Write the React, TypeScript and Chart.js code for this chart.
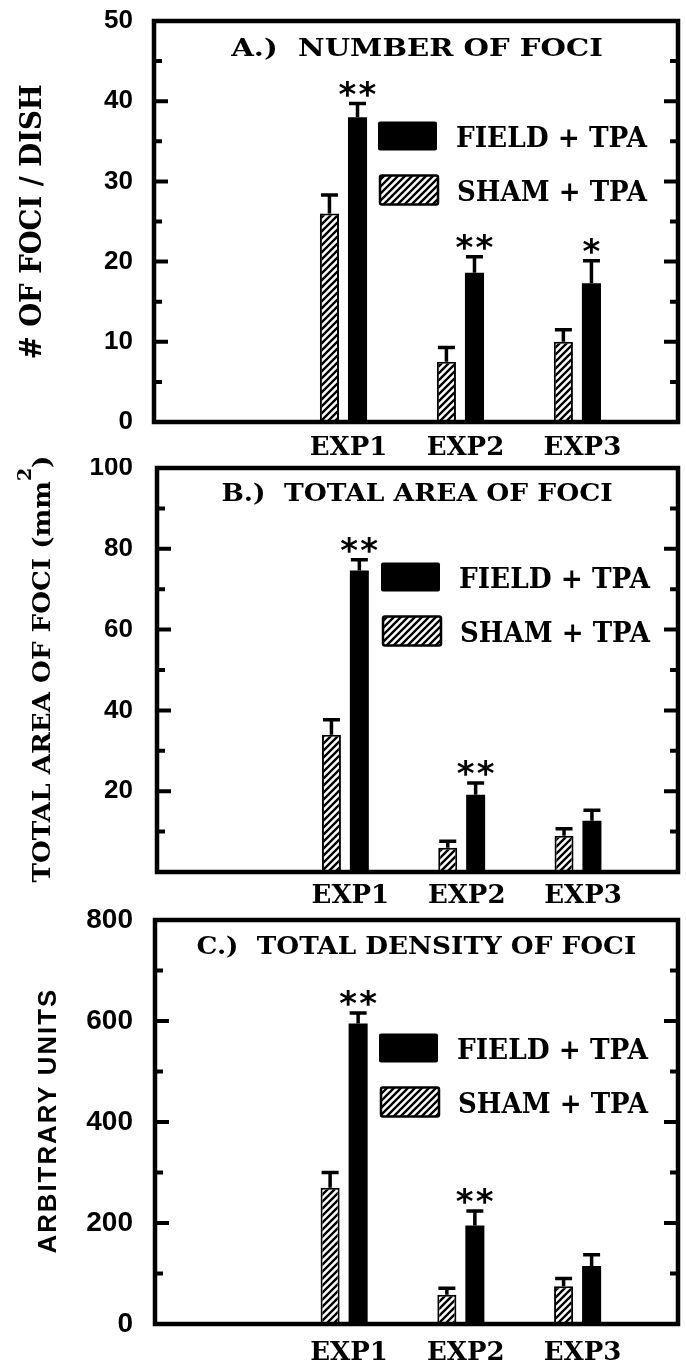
import React, { useEffect, useRef } from 'react';
import { Chart, registerables } from 'chart.js';

Chart.register(...registerables);

// ---------------- data ----------------
const categories = ['EXP1', 'EXP2', 'EXP3'];
const fieldLabel = 'FIELD + TPA';
const shamLabel = 'SHAM + TPA';

// A.) number of foci per dish
const fociSham = [26, 7.5, 10];
const fociShamErr = [2.3, 1.8, 1.5];
const fociField = [38, 18.6, 17.3];
const fociFieldErr = [1.7, 2.0, 2.8];
const fociStars = ['**', '**', '*'];

// B.) total area of foci (mm2)
const areaSham = [34, 6, 9];
const areaShamErr = [3.7, 1.6, 1.7];
const areaField = [74.6, 19.1, 12.7];
const areaFieldErr = [2.7, 2.9, 2.6];
const areaStars = ['**', '**', ''];

// C.) total density of foci (arbitrary units)
const densitySham = [270, 58, 75];
const densityShamErr = [30, 13, 15];
const densityField = [595, 195, 115];
const densityFieldErr = [21, 29, 22];
const densityStars = ['**', '**', ''];

// y axis ranges / tick steps
const fociAxis = { max: 50, step: 5, labelEvery: 10, zero: true };
const areaAxis = { max: 100, step: 10, labelEvery: 20, zero: false };
const densityAxis = { max: 800, step: 100, labelEvery: 200, zero: true };

// ---------------- style ----------------
const SERIF = '"DejaVu Serif", serif';
const SANS = '"Liberation Sans", Arial, sans-serif';
const STAR = '"DejaVu Sans", sans-serif';

type Panel = {
  key: string;
  canvasTop: number;
  canvasHeight: number;
  areaTop: number;
  areaLeft: number;
  xAxisHeight: number;
  xLabelPad: number;
  yLabelPad: number;
  yTickSize: number;
  axis: { max: number; step: number; labelEvery: number; zero: boolean };
  sham: number[];
  shamErr: number[];
  field: number[];
  fieldErr: number[];
  stars: string[];
  title: string;
  titleSize: number;
  titleW: number;
  titleY: number;
  yTitle: string;
  yTitleSup?: string;
  yTitleAfter?: string;
  yTitleFont: string;
  yTitleSize: number;
  yTitleW: number;
  yTitleX: number;
  yTitleSpacing: number;
  legendY: number;
};

const panels: Panel[] = [
  {
    key: 'A', canvasTop: 0, canvasHeight: 458, areaTop: 21, areaLeft: 154, xAxisHeight: 36,
    xLabelPad: 11, yLabelPad: 21, yTickSize: 26, axis: fociAxis,
    sham: fociSham, shamErr: fociShamErr, field: fociField, fieldErr: fociFieldErr, stars: fociStars,
    title: 'A.)  NUMBER OF FOCI', titleSize: 25, titleW: 372, titleY: 27,
    yTitle: '# OF FOCI / DISH', yTitleFont: SERIF, yTitleSize: 30, yTitleW: 272, yTitleX: 31, yTitleSpacing: 0,
    legendY: 115,
  },
  {
    key: 'B', canvasTop: 458, canvasHeight: 450, areaTop: 10, areaLeft: 157, xAxisHeight: 36,
    xLabelPad: 9, yLabelPad: 24, yTickSize: 26, axis: areaAxis,
    sham: areaSham, shamErr: areaShamErr, field: areaField, fieldErr: areaFieldErr, stars: areaStars,
    title: 'B.)  TOTAL AREA OF FOCI', titleSize: 24, titleW: 390, titleY: 25,
    yTitle: 'TOTAL AREA OF FOCI (mm', yTitleSup: '2', yTitleAfter: ')',
    yTitleFont: SERIF, yTitleSize: 25, yTitleW: 425, yTitleX: 41, yTitleSpacing: 0,
    legendY: 109,
  },
  {
    key: 'C', canvasTop: 908, canvasHeight: 456, areaTop: 12, areaLeft: 155, xAxisHeight: 40,
    xLabelPad: 14, yLabelPad: 22, yTickSize: 28, axis: densityAxis,
    sham: densitySham, shamErr: densityShamErr, field: densityField, fieldErr: densityFieldErr, stars: densityStars,
    title: 'C.)  TOTAL DENSITY OF FOCI', titleSize: 25, titleW: 438, titleY: 26,
    yTitle: 'ARBITRARY UNITS', yTitleFont: SANS, yTitleSize: 25, yTitleW: 263, yTitleX: 47, yTitleSpacing: 2,
    legendY: 128,
  },
];

const X_MIN = -1.62;
const X_MAX = 2.86;
const AREA_RIGHT = 678;
const W = 686;

function makeHatch(ctx: CanvasRenderingContext2D): CanvasPattern {
  const s = 7;
  const c = document.createElement('canvas');
  c.width = s;
  c.height = s;
  const g = c.getContext('2d')!;
  g.fillStyle = '#fff';
  g.fillRect(0, 0, s, s);
  g.strokeStyle = '#000';
  g.lineWidth = 2.4;
  g.beginPath();
  g.moveTo(-1, s + 1); g.lineTo(s + 1, -1);
  g.moveTo(-s / 2 - 1, s / 2 + 1); g.lineTo(s / 2 + 1, -s / 2 - 1);
  g.moveTo(s / 2 - 1, s * 1.5 + 1); g.lineTo(s * 1.5 + 1, s / 2 - 1);
  g.stroke();
  return ctx.createPattern(c, 'repeat')!;
}

// Draw text whose ink box is placed at (x, y): centred vertically, and either
// centred or left-aligned horizontally; optionally stretched to an ink width.
function drawInk(
  ctx: CanvasRenderingContext2D, text: string, x: number, y: number, font: string,
  mode: 'center' | 'left', targetW = 0, rotate = 0, spacing = 0,
) {
  ctx.save();
  ctx.font = font;
  (ctx as any).letterSpacing = spacing + 'px';
  ctx.textAlign = 'left';
  ctx.textBaseline = 'alphabetic';
  ctx.fillStyle = '#000';
  const m = ctx.measureText(text);
  const aL = m.actualBoundingBoxLeft;
  const aR = m.actualBoundingBoxRight;
  const inkW = aL + aR;
  const sx = targetW ? targetW / inkW : 1;
  ctx.translate(x, y);
  if (rotate) ctx.rotate(rotate);
  ctx.scale(sx, 1);
  const bx = mode === 'center' ? -(aR - aL) / 2 : aL;
  const by = (m.actualBoundingBoxAscent - m.actualBoundingBoxDescent) / 2;
  ctx.fillText(text, bx, by);
  ctx.restore();
}

function PanelChart({ p }: { p: Panel }) {
  const ref = useRef<HTMLCanvasElement | null>(null);
  useEffect(() => {
    const canvas = ref.current!;
    const ctx0 = canvas.getContext('2d')!;
    const hatch = makeHatch(ctx0);
    const isLabelled = (v: number) => v % p.axis.labelEvery === 0 && (p.axis.zero || v > 0);

    const decor = {
      id: 'decor' + p.key,
      afterDatasetsDraw(chart: any) {
        const ctx: CanvasRenderingContext2D = chart.ctx;
        const ys = chart.scales.y;
        const errs = [p.shamErr, p.fieldErr];
        const vals = [p.sham, p.field];
        ctx.save();
        ctx.strokeStyle = '#000';
        ctx.lineWidth = 3.5;
        [0, 1].forEach((di) => {
          const meta = chart.getDatasetMeta(di);
          meta.data.forEach((el: any, i: number) => {
            const top = ys.getPixelForValue(vals[di][i] + errs[di][i]);
            ctx.beginPath();
            ctx.moveTo(el.x, el.y);
            ctx.lineTo(el.x, top);
            ctx.moveTo(el.x - 8.5, top);
            ctx.lineTo(el.x + 8.5, top);
            ctx.stroke();
            const s = p.stars[i];
            if (di === 1 && s) {
              const n = s.length;
              for (let j = 0; j < n; j++) {
                drawInk(ctx, '*', el.x + (j - (n - 1) / 2) * 20, top - 15, `bold 34px ${STAR}`, 'center');
              }
            }
          });
        });
        ctx.restore();
      },
      afterDraw(chart: any) {
        const ctx: CanvasRenderingContext2D = chart.ctx;
        const a = chart.chartArea;
        const ys = chart.scales.y;
        ctx.save();
        // inward tick marks on both sides
        ctx.strokeStyle = '#000';
        ctx.lineWidth = 4;
        ys.ticks.forEach((t: any) => {
          if (t.value <= 0 || t.value >= p.axis.max) return;
          const y = ys.getPixelForValue(t.value);
          const len = isLabelled(t.value) ? 14 : 8;
          ctx.beginPath();
          ctx.moveTo(a.left, y); ctx.lineTo(a.left + len, y);
          ctx.moveTo(a.right, y); ctx.lineTo(a.right - len, y);
          ctx.stroke();
        });
        // frame
        ctx.lineWidth = 4.5;
        ctx.lineJoin = 'miter';
        ctx.strokeRect(a.left, a.top, a.right - a.left, a.bottom - a.top);

        // title inside the frame
        drawInk(ctx, p.title, (a.left + a.right) / 2, a.top + p.titleY, `bold ${p.titleSize}px ${SERIF}`, 'center', p.titleW);

        // legend
        const bx = a.left + 224;
        const r1 = a.top + p.legendY;
        const r2 = r1 + 54;
        ctx.fillStyle = '#000';
        ctx.beginPath();
        (ctx as any).roundRect(bx, r1 - 14.5, 59, 29, 2);
        ctx.fill();
        ctx.beginPath();
        (ctx as any).roundRect(bx + 2, r2 - 14.5, 58, 29, 2);
        ctx.fillStyle = hatch;
        ctx.fill();
        ctx.lineWidth = 2.5;
        ctx.stroke();
        drawInk(ctx, fieldLabel, a.left + 303, r1, `bold 27px ${SERIF}`, 'left', 191);
        drawInk(ctx, shamLabel, a.left + 304, r2, `bold 27px ${SERIF}`, 'left', 190);

        // y axis title (rotated)
        const cy = (a.top + a.bottom) / 2;
        const font = `bold ${p.yTitleSize}px ${p.yTitleFont}`;
        if (p.yTitleSup) {
          const supFont = `bold ${Math.round(p.yTitleSize * 0.7)}px ${SERIF}`;
          ctx.save();
          ctx.font = font;
          const mm = ctx.measureText(p.yTitle);
          const w1 = mm.width;
          const w3m = ctx.measureText(p.yTitleAfter || '');
          const w3 = w3m.width;
          ctx.font = supFont;
          const w2 = ctx.measureText(p.yTitleSup).width;
          ctx.restore();
          const inkTotal = mm.actualBoundingBoxLeft + w1 + w2 + w3m.actualBoundingBoxRight;
          const sx = p.yTitleW / inkTotal;
          const capH = mm.actualBoundingBoxAscent;
          ctx.save();
          ctx.translate(p.yTitleX, cy);
          ctx.rotate(-Math.PI / 2);
          ctx.scale(sx, 1);
          ctx.fillStyle = '#000';
          ctx.textBaseline = 'alphabetic';
          ctx.textAlign = 'left';
          const x0 = -inkTotal / 2 + mm.actualBoundingBoxLeft;
          const base = capH * 0.5 - 1;
          ctx.font = font;
          ctx.fillText(p.yTitle, x0, base);
          ctx.font = supFont;
          ctx.fillText(p.yTitleSup, x0 + w1, base - capH * 0.95);
          ctx.font = font;
          ctx.fillText(p.yTitleAfter || '', x0 + w1 + w2, base);
          ctx.restore();
        } else {
          drawInk(ctx, p.yTitle, p.yTitleX, cy, font, 'center', p.yTitleW, -Math.PI / 2, p.yTitleSpacing);
        }
        ctx.restore();
      },
    };

    const chart = new Chart(canvas, {
      type: 'bar',
      data: {
        datasets: [
          {
            label: shamLabel,
            data: p.sham.map((v, i) => ({ x: i, y: v })),
            backgroundColor: hatch,
            borderColor: '#000',
            borderWidth: 2,
            categoryPercentage: 0.48,
            barPercentage: 0.68,
          },
          {
            label: fieldLabel,
            data: p.field.map((v, i) => ({ x: i, y: v })),
            backgroundColor: '#000',
            borderColor: '#000',
            borderWidth: 0,
            categoryPercentage: 0.48,
            barPercentage: 0.68,
          },
        ],
      } as any,
      options: {
        responsive: false,
        animation: false,
        events: [],
        layout: { padding: { top: p.areaTop, left: 0, right: W - AREA_RIGHT, bottom: 0 } },
        plugins: { legend: { display: false }, tooltip: { enabled: false }, title: { display: false } },
        scales: {
          x: {
            type: 'linear',
            offset: false,
            min: X_MIN,
            max: X_MAX,
            grid: { display: false, drawTicks: false },
            border: { display: false },
            afterBuildTicks: (s: any) => {
              s.ticks = categories.map((_, i) => ({ value: i }));
            },
            afterFit: (s: any) => {
              s.height = p.xAxisHeight;
              s.paddingLeft = 0;
              s.paddingRight = 0;
            },
            ticks: {
              autoSkip: false,
              maxRotation: 0,
              padding: p.xLabelPad,
              labelOffset: 5,
              color: '#000',
              font: { family: SERIF, size: 26, weight: 'bold' },
              callback: (v: any) => categories[Math.round(Number(v))] ?? '',
            },
          },
          y: {
            type: 'linear',
            min: 0,
            max: p.axis.max,
            grid: { display: false, drawTicks: false },
            border: { display: false },
            afterFit: (s: any) => {
              s.width = p.areaLeft;
              s.paddingTop = 0;
              s.paddingBottom = 0;
            },
            ticks: {
              stepSize: p.axis.step,
              autoSkip: false,
              padding: p.yLabelPad,
              color: '#000',
              font: { family: SANS, size: p.yTickSize, weight: 'bold' },
              callback: (v: any) => (isLabelled(Number(v)) ? String(v) : ''),
            },
          },
        },
      } as any,
      plugins: [decor],
    });
    return () => chart.destroy();
  }, [p]);

  return (
    <canvas
      ref={ref}
      width={W}
      height={p.canvasHeight}
      style={{ position: 'absolute', left: 0, top: p.canvasTop, width: W, height: p.canvasHeight }}
    />
  );
}

export default function App() {
  return (
    <div style={{ position: 'absolute', left: 0, top: 0, width: W, height: 1364, background: '#fff' }}>
      {panels.map((p) => (
        <PanelChart key={p.key} p={p} />
      ))}
    </div>
  );
}
